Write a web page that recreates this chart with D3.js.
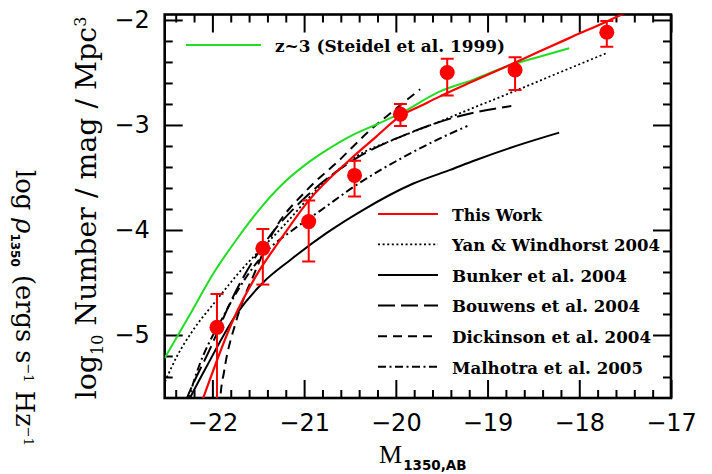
<!DOCTYPE html>
<html><head><meta charset="utf-8">
<script src="https://cdn.jsdelivr.net/npm/d3@7"></script>
<style>body{margin:0;background:#fff}svg{display:block}</style>
</head><body>
<svg id="c" width="712" height="474"></svg>
<script>
// ---- data ----
const xTicks = [-22, -21, -20, -19, -18, -17];
const yTicks = [-5, -4, -3, -2];
const obsM    = [-21.95, -21.45, -20.95, -20.45, -19.95, -19.44, -18.70, -17.70];
const obsLogN = [-4.927, -4.175, -3.92, -3.48, -2.898, -2.50, -2.476, -2.117];
const obsHi   = [-4.61, -3.99, -3.72, -3.34, -2.80, -2.37, -2.355, -2.01];
const obsLo   = [-6.00, -4.52, -4.30, -3.68, -3.01, -2.72, -2.667, -2.254];

const steidel = [[-22.52,-5.22],[-22.235,-4.79],[-21.988,-4.412],[-21.740,-4.095],[-21.493,-3.81],[-21.246,-3.571],[-20.999,-3.387],[-20.751,-3.238],[-20.504,-3.111],[-20.207,-2.993],[-19.960,-2.895],[-19.524,-2.683],[-19.162,-2.57],[-18.799,-2.445],[-18.436,-2.35],[-18.110,-2.27]];
const thisWork = [[-22.133,-5.68],[-22.100,-5.6],[-21.774,-4.857],[-21.519,-4.43],[-21.265,-4.10],[-20.950,-3.72],[-20.504,-3.333],[-20.213,-3.111],[-19.960,-2.92],[-19.709,-2.81],[-19.524,-2.73],[-19.165,-2.587],[-18.795,-2.443],[-18.436,-2.30],[-18.077,-2.16],[-17.705,-2.016],[-17.346,-1.87]];
const yan = [[-22.517,-5.445],[-22.389,-5.207],[-22.209,-4.952],[-21.954,-4.667],[-21.701,-4.397],[-21.338,-4.064],[-21.192,-3.93],[-20.903,-3.65],[-20.431,-3.30],[-19.996,-3.13],[-19.524,-2.968],[-19.165,-2.84],[-18.795,-2.71],[-18.436,-2.58],[-18.077,-2.45],[-17.705,-2.317]];
const bunker = [[-22.28,-5.66],[-22.245,-5.6],[-22.063,-5.30],[-21.737,-4.80],[-21.447,-4.50],[-21.157,-4.29],[-20.757,-4.03],[-20.359,-3.81],[-19.815,-3.56],[-19.416,-3.43],[-19.125,-3.333],[-18.654,-3.19],[-18.219,-3.073]];
const bouwens = [[-22.30,-5.65],[-22.277,-5.6],[-22.009,-5.10],[-21.788,-4.66],[-21.450,-4.15],[-20.950,-3.66],[-20.455,-3.33],[-19.862,-3.08],[-19.367,-2.93],[-18.741,-2.82]];
const dickinson = [[-21.92,-5.7],[-21.913,-5.6],[-21.873,-5.35],[-21.738,-4.86],[-21.541,-4.41],[-21.343,-4.03],[-20.970,-3.62],[-20.622,-3.34],[-20.306,-3.07],[-20.034,-2.87],[-19.735,-2.66]];
const malhotra = [[-22.27,-5.65],[-22.255,-5.6],[-21.842,-4.76],[-21.428,-4.22],[-21.124,-4.00],[-20.830,-3.82],[-20.427,-3.57],[-19.883,-3.29],[-19.524,-3.13],[-19.220,-3.01]];

const topLegendLabel = "z~3 (Steidel et al. 1999)";
const legendLabels = ["This Work", "Yan & Windhorst 2004", "Bunker et al. 2004", "Bouwens et al. 2004", "Dickinson et al. 2004", "Malhotra et al. 2005"];

// ---- layout ----
const svg = d3.select("#c");
const L = 164.7, R = 671, T = 14.5, B = 398;
const x = d3.scaleLinear().domain([-22.52, -17]).range([L, R]);
const y = d3.scaleLinear().domain([-5.6, -1.948]).range([B, T]);
const fmt = d3.format("d");

svg.append("defs").append("clipPath").attr("id","plot")
  .append("rect").attr("x",L).attr("y",T).attr("width",R-L).attr("height",B-T);

const minorX = d3.range(-22.4, -17.0 + 1e-9, 0.2).filter(v => Math.abs(v - Math.round(v)) > 1e-6);
const minorY = d3.range(-5.4, -1.9, 0.2).filter(v => Math.abs(v - Math.round(v)) > 1e-6);

const tickFont = "'DejaVu Sans', sans-serif";
function styleAxis(g) {
  g.select(".domain").remove();
  g.selectAll(".tick line").attr("stroke","#000").attr("stroke-width",2);
  g.selectAll("text").attr("font-family", tickFont).attr("font-size", 24).attr("fill","#000");
}
// bottom
svg.append("g").attr("transform",`translate(0,${B})`)
  .call(d3.axisBottom(x).tickValues(xTicks).tickFormat(fmt).tickSizeInner(-18).tickSizeOuter(0).tickPadding(16))
  .call(styleAxis);
svg.append("g").attr("transform",`translate(0,${B})`)
  .call(d3.axisBottom(x).tickValues(minorX).tickSizeInner(-8).tickSizeOuter(0).tickFormat(""))
  .call(styleAxis);
// top
svg.append("g").attr("transform",`translate(0,${T})`)
  .call(d3.axisTop(x).tickValues(xTicks).tickSizeInner(-18).tickSizeOuter(0).tickFormat(""))
  .call(styleAxis);
svg.append("g").attr("transform",`translate(0,${T})`)
  .call(d3.axisTop(x).tickValues(minorX).tickSizeInner(-8).tickSizeOuter(0).tickFormat(""))
  .call(styleAxis);
// left
svg.append("g").attr("transform",`translate(${L},0)`)
  .call(d3.axisLeft(y).tickValues(yTicks).tickFormat(fmt).tickSizeInner(-18).tickSizeOuter(0).tickPadding(15))
  .call(styleAxis);
svg.append("g").attr("transform",`translate(${L},0)`)
  .call(d3.axisLeft(y).tickValues(minorY).tickSizeInner(-8).tickSizeOuter(0).tickFormat(""))
  .call(styleAxis);
// right
svg.append("g").attr("transform",`translate(${R},0)`)
  .call(d3.axisRight(y).tickValues(yTicks).tickSizeInner(-18).tickSizeOuter(0).tickFormat(""))
  .call(styleAxis);
svg.append("g").attr("transform",`translate(${R},0)`)
  .call(d3.axisRight(y).tickValues(minorY).tickSizeInner(-8).tickSizeOuter(0).tickFormat(""))
  .call(styleAxis);

// frame
svg.append("rect").attr("x",L).attr("y",T).attr("width",R-L).attr("height",B-T)
  .attr("fill","none").attr("stroke","#000").attr("stroke-width",2.6);

// ---- curves ----
const line = d3.line().x(d => x(d[0])).y(d => y(d[1])).curve(d3.curveMonotoneX);
const plot = svg.append("g").attr("clip-path","url(#plot)");
const styles = {
  steidel:   {stroke:"#22dd22", w:2,   dash:null},
  thisWork:  {stroke:"#ff0000", w:2.2, dash:null},
  yan:       {stroke:"#000",    w:1.8, dash:"2,2.6"},
  bunker:    {stroke:"#000",    w:2,   dash:null},
  bouwens:   {stroke:"#000",    w:2,   dash:"17,6"},
  dickinson: {stroke:"#000",    w:2,   dash:"9,6"},
  malhotra:  {stroke:"#000",    w:2,   dash:"8,3.5,2,3.5"}
};
const series = [["bunker",bunker],["yan",yan],["bouwens",bouwens],["dickinson",dickinson],["malhotra",malhotra],["steidel",steidel],["thisWork",thisWork]];
series.forEach(([k, d]) => {
  const s = styles[k];
  plot.append("path").datum(d).attr("d", line).attr("fill","none")
    .attr("stroke", s.stroke).attr("stroke-width", s.w)
    .attr("stroke-dasharray", s.dash);
});

// ---- observed points ----
const pts = obsM.map((m,i) => ({m, v:obsLogN[i], hi:obsHi[i], lo:obsLo[i]}));
const eg = plot.append("g");
eg.selectAll("line.err").data(pts).join("line")
  .attr("x1", d => x(d.m)).attr("x2", d => x(d.m))
  .attr("y1", d => y(d.hi)).attr("y2", d => y(d.lo))
  .attr("stroke","#ff0000").attr("stroke-width",2);
eg.selectAll("line.capH").data(pts).join("line")
  .attr("x1", d => x(d.m)-6.5).attr("x2", d => x(d.m)+6.5)
  .attr("y1", d => y(d.hi)).attr("y2", d => y(d.hi))
  .attr("stroke","#ff0000").attr("stroke-width",2);
eg.selectAll("line.capL").data(pts).join("line")
  .attr("x1", d => x(d.m)-6.5).attr("x2", d => x(d.m)+6.5)
  .attr("y1", d => y(d.lo)).attr("y2", d => y(d.lo))
  .attr("stroke","#ff0000").attr("stroke-width",2);
eg.selectAll("circle").data(pts).join("circle")
  .attr("cx", d => x(d.m)).attr("cy", d => y(d.v)).attr("r", 7.5)
  .attr("fill","#ff0000");

// ---- legends ----
const legFont = "'DejaVu Serif', serif";
svg.append("line").attr("x1",186).attr("x2",261).attr("y1",45).attr("y2",45)
  .attr("stroke",styles.steidel.stroke).attr("stroke-width",2);
svg.append("text").attr("x",275).attr("y",52).text(topLegendLabel)
  .attr("font-family",legFont).attr("font-weight","bold").attr("font-size",17)
  .attr("textLength",230).attr("lengthAdjust","spacingAndGlyphs");

const legKeys = ["thisWork","yan","bunker","bouwens","dickinson","malhotra"];
const legY = [214, 244.3, 275, 305.6, 336.3, 366.7];
const legW = [90, 208, 175, 188, 199, 191];
legKeys.forEach((k,i) => {
  const s = styles[k];
  svg.append("line").attr("x1",378).attr("x2",438).attr("y1",legY[i]).attr("y2",legY[i])
    .attr("stroke",s.stroke).attr("stroke-width",s.w).attr("stroke-dasharray",s.dash);
  svg.append("text").attr("x",452).attr("y",legY[i]+6.8).text(legendLabels[i])
    .attr("font-family",legFont).attr("font-weight","bold").attr("font-size",16.5)
    .attr("textLength",legW[i]).attr("lengthAdjust","spacingAndGlyphs");
});

// ---- axis titles ----
const xt = svg.append("text").attr("x",379).attr("y",463)
  .attr("font-family","'Liberation Serif', serif").attr("font-size",26).attr("fill","#000");
xt.append("tspan").text("M");
xt.append("tspan").attr("dy",7).attr("dx",1).attr("font-family","'DejaVu Sans', sans-serif")
  .attr("font-weight","bold").attr("font-size",13.5).text("1350,AB");

const yt = svg.append("text").attr("transform","translate(96,208) rotate(-90)")
  .attr("text-anchor","middle").attr("font-family","'DejaVu Serif', serif")
  .attr("font-size",25).attr("fill","#000");
yt.append("tspan").text("log");
yt.append("tspan").attr("dy",7).attr("font-size",16).text("10");
yt.append("tspan").attr("dy",-7).text(" Number / mag / Mpc");
yt.append("tspan").attr("dy",-10).attr("font-size",16).text("3");
(function fit(){ const w = yt.node().getComputedTextLength(); if (w>0) yt.attr("font-size", 25*387/w); })();

// ghost label at far left (cut-off text from a neighbouring panel)
const gt = svg.append("text").attr("transform","translate(16,170) rotate(90)")
  .attr("font-family","'DejaVu Serif', serif").attr("font-size",21).attr("fill","#000");
gt.append("tspan").text("log ");
gt.append("tspan").attr("font-style","italic").text("ρ");
gt.append("tspan").attr("dy",5).attr("font-size",12).attr("font-weight","bold").attr("font-family","'DejaVu Sans', sans-serif").text("1350");
gt.append("tspan").attr("dy",-5).text("  (ergs  s");
gt.append("tspan").attr("dy",-8).attr("font-size",13).text("−1");
gt.append("tspan").attr("dy",8).text("  Hz");
gt.append("tspan").attr("dy",-8).attr("font-size",13).text("−1");
(function fitG(){ const w = gt.node().getComputedTextLength(); if (w>0) gt.attr("font-size", 21*292/w); })();
</script>
</body></html>
